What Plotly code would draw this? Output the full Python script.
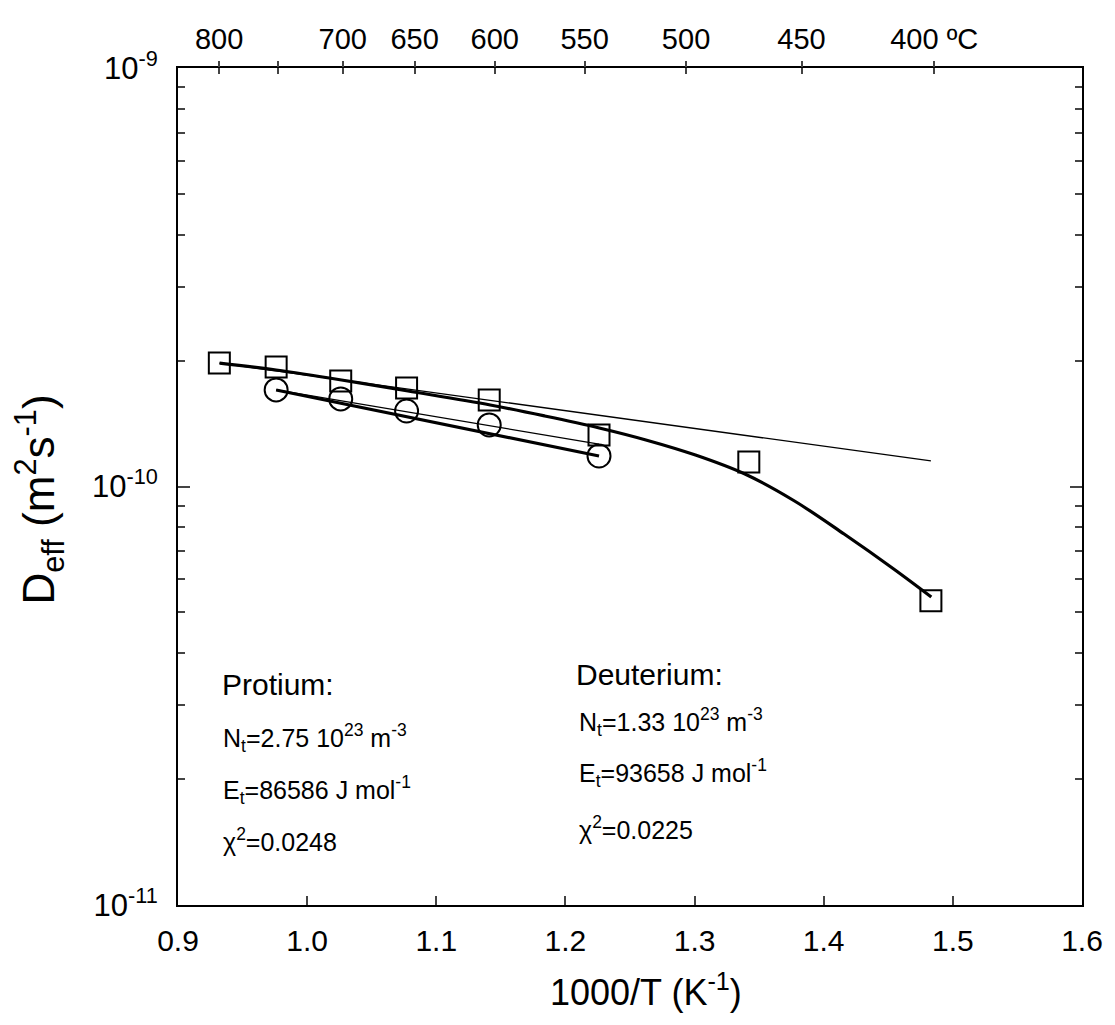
import plotly.graph_objects as go

# Deuterium (squares)
invT_D = [0.932, 0.976, 1.026, 1.077, 1.141, 1.226, 1.342, 1.483]
Deff_D = [1.972e-10, 1.929e-10, 1.787e-10, 1.720e-10, 1.610e-10, 1.327e-10, 1.144e-10, 5.33e-11]
# Protium (circles)
invT_P = [0.976, 1.026, 1.077, 1.141, 1.226]
Deff_P = [1.701e-10, 1.619e-10, 1.515e-10, 1.403e-10, 1.183e-10]

# Deuterium trapping fit (thick curve)
fitD_x = [0.9322, 0.9760, 1.0266, 1.0781, 1.1418, 1.1840, 1.2262, 1.2623, 1.3007, 1.3390,
          1.3774, 1.4158, 1.4542, 1.4833]
fitD_y = [1.972e-10, 1.898e-10, 1.797e-10, 1.691e-10, 1.566e-10, 1.474e-10, 1.380e-10, 1.292e-10,
          1.189e-10, 1.071e-10, 9.233e-11, 7.698e-11, 6.352e-11, 5.445e-11]
# Deuterium lattice line (thin)
latD_x = [0.932, 1.483]
latD_y = [1.972e-10, 1.151e-10]
# Protium trapping fit (thick)
fitP_x = [0.976, 1.226]
fitP_y = [1.701e-10, 1.183e-10]
# Protium lattice line (thin)
latP_x = [0.976, 1.226]
latP_y = [1.701e-10, 1.263e-10]

# axis ticks
x_ticks = [0.9, 1.0, 1.1, 1.2, 1.3, 1.4, 1.5, 1.6]
x_ticklabels = ["0.9", "1.0", "1.1", "1.2", "1.3", "1.4", "1.5", "1.6"]
y_ticks = [1e-11, 1e-10, 1e-9]
y_ticklabels = ["10<sup>-11</sup>", "10<sup>-10</sup>", "10<sup>-9</sup>"]
y_minor = [k * 1e-11 for k in range(2, 10)] + [k * 1e-10 for k in range(2, 10)]
temps_C = [800, 750, 700, 650, 600, 550, 500, 450, 400]
temp_labels = ["800", "", "700", "650", "600", "550", "500", "450", "400 ºC"]
top_ticks = [1000.0 / (t + 273.15) for t in temps_C]

x_title = "1000/T (K<sup>-1</sup>)"
y_title = "D<sub>eff</sub> (m<sup>2</sup>s<sup>-1</sup>)"

FONT = "Liberation Sans, Arial, sans-serif"

fig = go.Figure()
fig.add_trace(go.Scatter(x=latD_x, y=latD_y, mode="lines", line=dict(color="black", width=1.3),
                         showlegend=False))
fig.add_trace(go.Scatter(x=latP_x, y=latP_y, mode="lines", line=dict(color="black", width=1.3),
                         showlegend=False))
fig.add_trace(go.Scatter(x=fitD_x, y=fitD_y, mode="lines",
                         line=dict(color="black", width=3.2, shape="spline", smoothing=1.0),
                         showlegend=False))
fig.add_trace(go.Scatter(x=fitP_x, y=fitP_y, mode="lines", line=dict(color="black", width=3.2),
                         showlegend=False))
fig.add_trace(go.Scatter(x=invT_D, y=Deff_D, mode="markers",
                         marker=dict(symbol="square-open", size=21, color="black", line=dict(width=2)),
                         showlegend=False))
fig.add_trace(go.Scatter(x=invT_P, y=Deff_P, mode="markers",
                         marker=dict(symbol="circle-open", size=23, color="black", line=dict(width=2)),
                         showlegend=False))

fig.update_layout(
    width=1115, height=1025,
    margin=dict(l=178, r=25, t=68, b=120),
    paper_bgcolor="white", plot_bgcolor="white",
    font=dict(family=FONT, color="black", size=30),
    xaxis=dict(range=[0.9, 1.6], tickvals=x_ticks, ticktext=x_ticklabels, ticks="inside", ticklen=9,
               tickwidth=1.5, showline=True, linecolor="black", linewidth=2, mirror=True,
               showgrid=False, zeroline=False, tickfont=dict(size=30), ticklabelstandoff=8),
    xaxis2=dict(range=[0.9, 1.6], overlaying="x", side="top", tickvals=top_ticks, ticktext=temp_labels,
                ticks="outside", ticklen=6, tickwidth=1.5, showgrid=False, zeroline=False,
                showline=False, tickfont=dict(size=29)),
    xaxis3=dict(range=[0.9, 1.6], overlaying="x", side="top", tickvals=top_ticks, ticks="inside",
                ticklen=6, tickwidth=1.5, showticklabels=False, showgrid=False, zeroline=False,
                showline=False),
    yaxis=dict(type="log", range=[-11, -9], tickvals=y_ticks, ticktext=y_ticklabels, ticks="inside",
               ticklen=12, tickwidth=1.5, showline=True, linecolor="black", linewidth=2, mirror="ticks",
               showgrid=False, zeroline=False, tickfont=dict(size=31), ticklabelstandoff=12,
               minor=dict(tickvals=y_minor, ticks="inside", ticklen=7, tickwidth=1.5, showgrid=False)),
)

# dummy traces so top axes are drawn
fig.add_trace(go.Scatter(x=[None], y=[None], xaxis="x2", yaxis="y", showlegend=False, hoverinfo="skip"))
fig.add_trace(go.Scatter(x=[None], y=[None], xaxis="x3", yaxis="y", showlegend=False, hoverinfo="skip"))

# axis titles
fig.add_annotation(text=x_title, x=0.5175, y=-0.102, xref="paper", yref="paper", xanchor="center",
                   yanchor="middle", showarrow=False, font=dict(size=36, family=FONT, color="black"))
fig.add_annotation(text=y_title, x=-0.153, y=0.484, xref="paper", yref="paper", xanchor="center",
                   yanchor="middle", textangle=-90, showarrow=False,
                   font=dict(size=44, family=FONT, color="black"))

ann = [
    ("Protium:", 0.046, 0.263),
    ("N<sub>t</sub>=2.75 10<sup>23</sup> m<sup>-3</sup>", 0.048, 0.1995),
    ("E<sub>t</sub>=86586 J mol<sup>-1</sup>", 0.048, 0.137),
    ("χ<sup>2</sup>=0.0248", 0.048, 0.078),
    ("Deuterium:", 0.4375, 0.275),
    ("N<sub>t</sub>=1.33 10<sup>23</sup> m<sup>-3</sup>", 0.441, 0.219),
    ("E<sub>t</sub>=93658 J mol<sup>-1</sup>", 0.441, 0.158),
    ("χ<sup>2</sup>=0.0225", 0.441, 0.092),
]
for text, xp, yp in ann:
    size = 30 if text.endswith(":") else 25
    fig.add_annotation(text=text, x=xp, y=yp, xref="paper", yref="paper", xanchor="left", yanchor="middle",
                       showarrow=False, font=dict(size=size, family=FONT, color="black"))

fig.write_html("out.html")
